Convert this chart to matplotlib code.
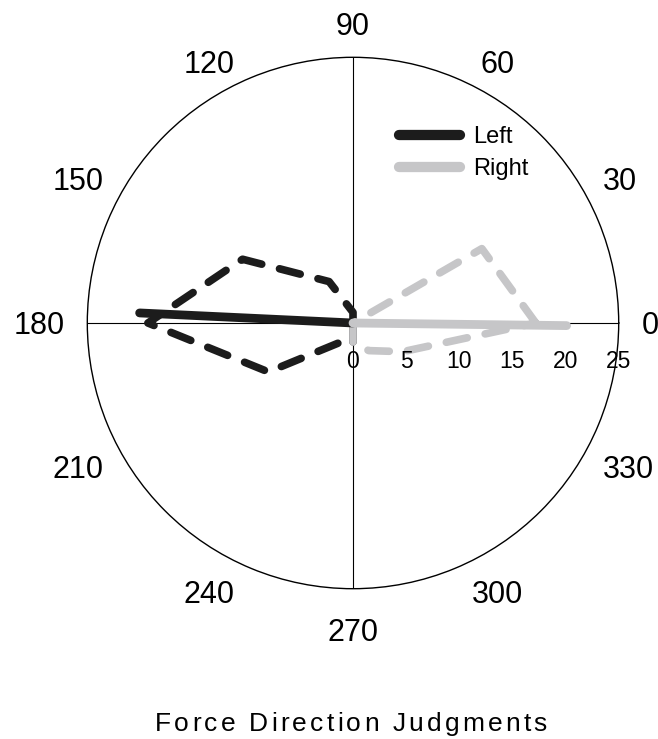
"""Polar plot of force direction judgments (left vs right)."""

import matplotlib

matplotlib.use("Agg")

import matplotlib.pyplot as plt
import numpy as np
from matplotlib.font_manager import FontProperties

FONT = "Liberation Sans"

# direction bins (deg) and counts per bin
ANGLES_DEG = [0, 30, 60, 90, 120, 150, 180, 210, 240, 270, 300, 330]
LEFT_COUNTS = [0, 0, 0, 1, 4.5, 12, 19.3, 9.2, 2, 2, 0, 0]
RIGHT_COUNTS = [17.2, 14, 0, 0, 0, 0, 0, 0, 0, 2, 3, 5.4]

# mean direction vectors (deg, length)
LEFT_MEAN = (177.3, 20.1)
RIGHT_MEAN = (-0.7, 20.1)

SERIES = ["Left", "Right"]
COLORS = {"Left": "#1c1c1c", "Right": "#c6c6c8"}

RADIAL_TICKS = [0, 5, 10, 15, 20, 25]
ANGLE_TICKS = [0, 30, 60, 90, 120, 150, 180, 210, 240, 270, 300, 330]
AXIS_LINES = [0, 90, 180, 270]
TITLE = "Force Direction Judgments"

plt.rcParams["font.family"] = "sans-serif"
plt.rcParams["font.sans-serif"] = [FONT, "DejaVu Sans"]

W, H = 658, 739
fig = plt.figure(figsize=(W / 100, H / 100), dpi=100)
cx, cy, R = 353, 323, 265.7
ax = fig.add_axes(
    [(cx - R) / W, (H - cy - R) / H, 2 * R / W, 2 * R / H], projection="polar"
)


def closed(angles, values):
    th = np.deg2rad(list(angles) + [angles[0]])
    return th, list(values) + [values[0]]


data = {"Left": (LEFT_COUNTS, LEFT_MEAN), "Right": (RIGHT_COUNTS, RIGHT_MEAN)}
mean_lines = []
for name in SERIES:
    counts, (mean_ang, mean_len) = data[name]
    th, r = closed(ANGLES_DEG, counts)
    ax.plot(
        th, r,
        color=COLORS[name],
        linewidth=5.5,
        linestyle=(0, (2.8, 2.4)),
        dash_capstyle="round",
        dash_joinstyle="round",
        zorder=3,
    )
    (line,) = ax.plot(
        [0, np.deg2rad(mean_ang)], [0, mean_len],
        color=COLORS[name],
        linewidth=6.3,
        solid_capstyle="round",
        label=name,
        zorder=4,
    )
    mean_lines.append(line)

ax.set_ylim(0, RADIAL_TICKS[-1])
ax.grid(False)
ax.set_yticks([])
ax.set_xticks(np.deg2rad(ANGLE_TICKS))
ax.set_xticklabels([])
ax.tick_params(axis="x", direction="in", length=5, width=0.8, color="black")
ax.spines["polar"].set_linewidth(1.0)

for a in AXIS_LINES:
    ax.axvline(np.deg2rad(a), color="black", linewidth=0.8, zorder=1)

# angle labels, anchored at the edge nearest the circle
label_r = RADIAL_TICKS[-1] * 1.085
for a in ANGLE_TICKS:
    c, s = np.cos(np.deg2rad(a)), np.sin(np.deg2rad(a))
    if abs(c) > 0.7:
        ha, va, dy = ("left" if c > 0 else "right"), "center", -2.0
    else:
        ha, va, dy = "center", ("bottom" if s > 0 else "top"), -5.0
    ax.annotate(str(a), xy=(np.deg2rad(a), label_r), xytext=(0, dy),
                textcoords="offset points", ha=ha, va=va, fontsize=22,
                annotation_clip=False)

# radial scale under the 0 axis
for r in RADIAL_TICKS:
    ax.annotate(str(r), xy=(0, r), xytext=(0, -28), textcoords="offset points",
                ha="center", va="center", fontsize=16.5, annotation_clip=False)

leg = ax.legend(
    handles=mean_lines,
    loc="upper left",
    bbox_to_anchor=(399 / W, 1 - 126 / H),
    bbox_transform=fig.transFigure,
    frameon=False,
    fontsize=17,
    borderpad=0,
    borderaxespad=0,
    handlelength=2.6,
    handletextpad=0.55,
    labelspacing=0.42,
)
for ln in leg.get_lines():
    ln.set_linewidth(7.4)
    ln.set_solid_capstyle("round")

# title with wide letter spacing
renderer = fig.canvas.get_renderer()
prop = FontProperties(family=FONT, size=19)
base = renderer.get_text_width_height_descent("XX", prop, ismath=False)[0]
advances = [
    renderer.get_text_width_height_descent("X" + ch + "X", prop, ismath=False)[0] - base
    for ch in TITLE
]
tracking = 3.2
total = sum(advances) + tracking * (len(TITLE) - 1)
x = 351 - total / 2
for ch, adv in zip(TITLE, advances):
    if ch != " ":
        fig.text(x / W, (H - 731) / H, ch, fontproperties=prop, ha="left",
                 va="baseline")
    x += adv + tracking

fig.savefig("out.png", dpi=100)
